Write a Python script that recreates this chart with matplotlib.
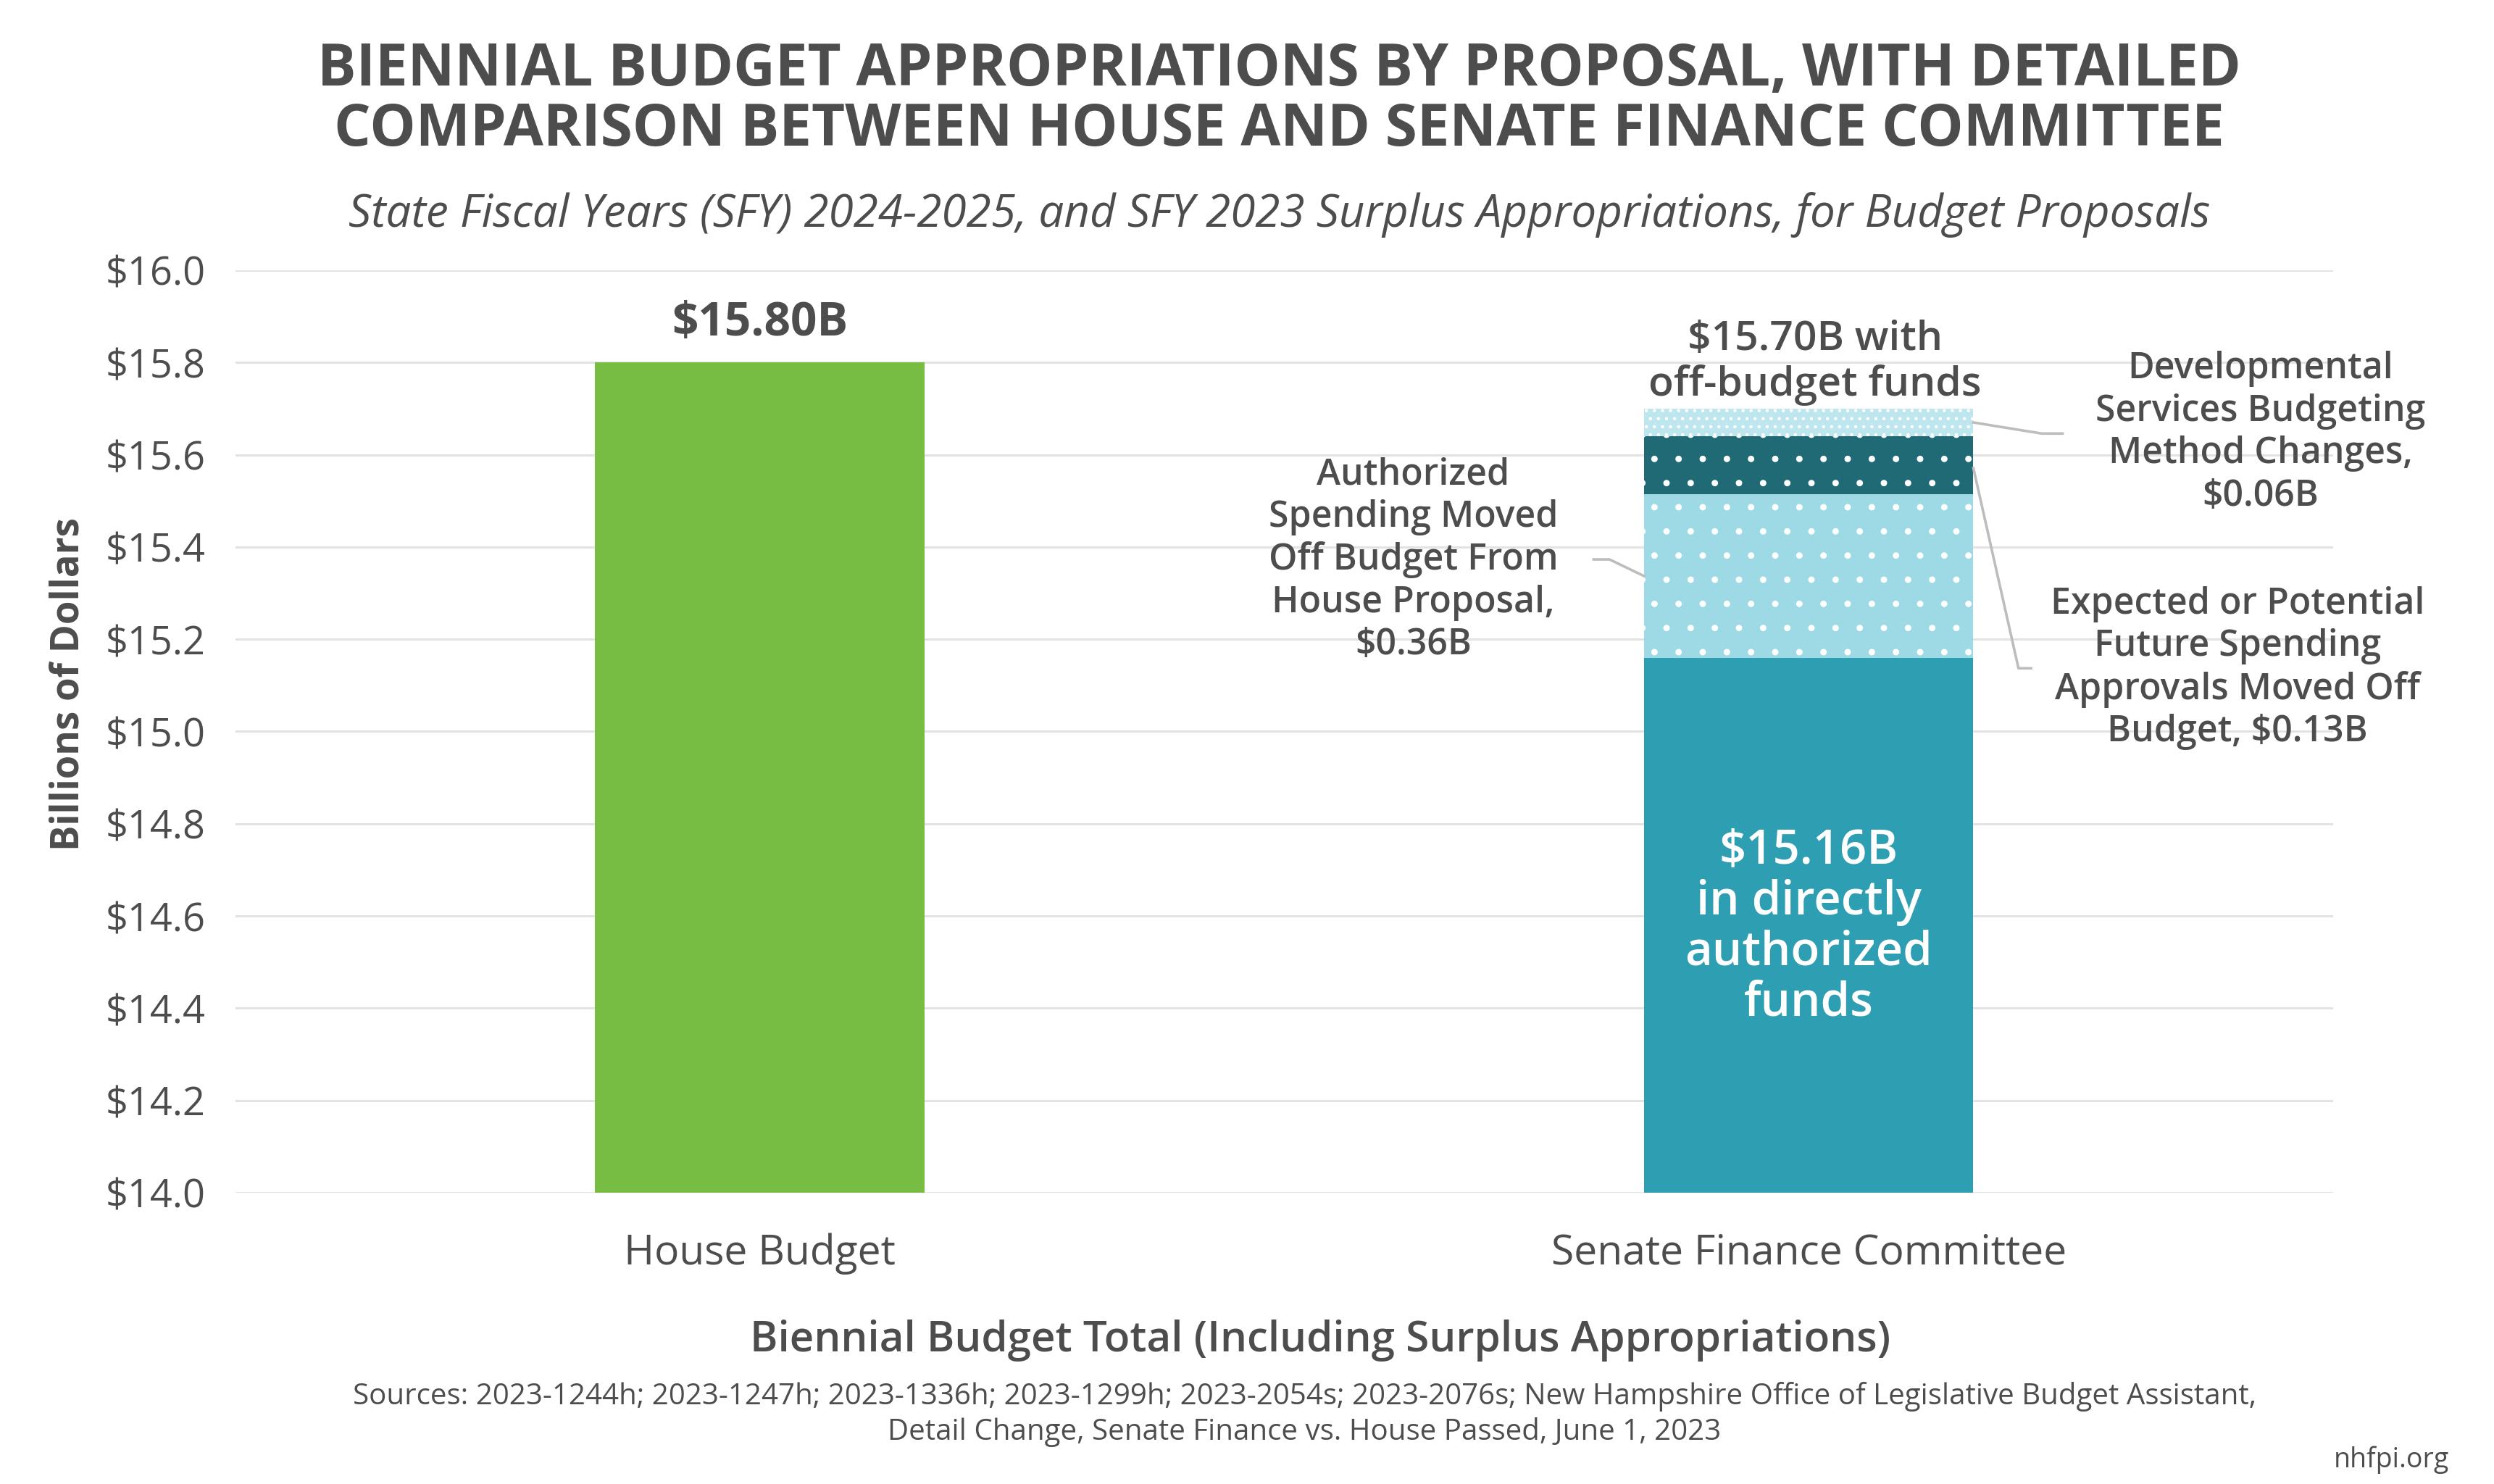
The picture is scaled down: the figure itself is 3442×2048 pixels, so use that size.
import matplotlib
matplotlib.use("Agg")
import matplotlib.pyplot as plt

# ---- data ----
categories = ["House Budget", "Senate Finance Committee"]
house_total = 15.80
senate_base = 15.16
senate_offbudget_authorized = 0.355
senate_future_approvals = 0.125
senate_dev_services = 0.06
yticks = [14.0, 14.2, 14.4, 14.6, 14.8, 15.0, 15.2, 15.4, 15.6, 15.8, 16.0]

TXT = "#4D4D4D"
GREEN = "#77BC43"
TEAL = "#2E9FB2"
LIGHT = "#9DDAE5"
DARK = "#1F6A74"
PALE = "#BDE6EE"
GRID = "#E3E3E3"
LEAD = "#BDBDBD"

plt.rcParams['font.family'] = ['Open Sans', 'DejaVu Sans']
plt.rcParams['hatch.linewidth'] = 0.8

fig = plt.figure(figsize=(17.21, 10.24), dpi=200)
ax = fig.add_axes([0.0944, 0.1963, 0.9355 - 0.0944, 0.8179 - 0.1963])

W = 0.314
x = [0, 1]
ax.bar(x[0], house_total - 14.0, bottom=14.0, width=W, color=GREEN, zorder=3)
ax.bar(x[1], senate_base - 14.0, bottom=14.0, width=W, color=TEAL, zorder=3)
bot = senate_base
ax.bar(x[1], senate_offbudget_authorized, bottom=bot, width=W, color=LIGHT,
       edgecolor="white", linewidth=0, hatch=".", zorder=3)
bot += senate_offbudget_authorized
ax.bar(x[1], senate_future_approvals, bottom=bot, width=W, color=DARK,
       edgecolor="white", linewidth=0, hatch=".", zorder=3)
bot += senate_future_approvals
ax.bar(x[1], senate_dev_services, bottom=bot, width=W, color=PALE,
       edgecolor="white", linewidth=0, hatch="...", zorder=3)
senate_total = bot + senate_dev_services

ax.set_xlim(-0.5, 1.5)
ax.set_ylim(14.0, 16.0)
ax.set_yticks(yticks)
ax.set_yticklabels([f"${v:.1f}" for v in yticks], fontsize=19.5, color=TXT)
ax.set_xticks(x)
ax.set_xticklabels(categories, fontsize=20.5, color=TXT)
ax.tick_params(axis='both', length=0)
ax.tick_params(axis='y', pad=15)
ax.tick_params(axis='x', pad=20)
ax.yaxis.grid(True, color=GRID, linewidth=1.1, zorder=0)
ax.set_axisbelow(True)
for s in ax.spines.values():
    s.set_visible(False)

fig.text(95 / 3442, 1 - 944 / 2048, "Billions of Dollars", rotation=90, ha='center', va='center',
         fontsize=19, fontweight='bold', color=TXT)
fig.text(0.5294, 1 - 1850 / 2048, "Biennial Budget Total (Including Surplus Appropriations)",
         ha='center', va='center', fontsize=21, fontweight='semibold', color=TXT)

# value labels
ax.text(x[0], house_total + 0.085, f"${house_total:.2f}B", ha='center', va='center',
        fontsize=23, fontweight='bold', color=TXT)
ax.text(x[1] + 0.006, senate_total + 0.1, f"${senate_total:.2f}B with\noff-budget funds",
        ha='center', va='center', fontsize=20.5, fontweight='semibold', color=TXT, linespacing=1.15)
ax.text(x[1], 14.575, f"${senate_base:.2f}B\nin directly\nauthorized\nfunds", ha='center', va='center',
        fontsize=23.5, fontweight='semibold', color='white', linespacing=1.1)

# annotations
left_edge = x[1] - W / 2
right_edge = x[1] + W / 2
ax.text(0.623, 15.372, "Authorized\nSpending Moved\nOff Budget From\nHouse Proposal,\n$0.36B",
        ha='center', va='center', fontsize=18, fontweight='semibold', color=TXT, linespacing=1.22)
ax.plot([0.795, 0.81, left_edge], [15.373, 15.373, 15.337], color=LEAD, lw=1.3, zorder=4, clip_on=False)

ax.text(1.431, 15.648, "Developmental\nServices Budgeting\nMethod Changes,\n$0.06B",
        ha='center', va='center', fontsize=18, fontweight='semibold', color=TXT, linespacing=1.22)
ax.plot([right_edge, 1.222, 1.242], [15.67, 15.646, 15.646], color=LEAD, lw=1.3, zorder=4, clip_on=False)

ax.text(1.409, 15.137, "Expected or Potential\nFuture Spending\nApprovals Moved Off\nBudget, $0.13B",
        ha='center', va='center', fontsize=18, fontweight='semibold', color=TXT, linespacing=1.22)
ax.plot([right_edge, 1.20, 1.212], [15.571, 15.137, 15.137], color=LEAD, lw=1.3, zorder=4, clip_on=False)

# titles
fig.text(0.513, 1 - 97 / 2048, "BIENNIAL BUDGET APPROPRIATIONS BY PROPOSAL, WITH DETAILED",
         ha='center', va='center', fontsize=28.7, fontweight='bold', color=TXT)
fig.text(0.513, 1 - 180 / 2048, "COMPARISON BETWEEN HOUSE AND SENATE FINANCE COMMITTEE",
         ha='center', va='center', fontsize=28.7, fontweight='bold', color=TXT)
fig.text(0.513, 1 - 296 / 2048,
         "State Fiscal Years (SFY) 2024-2025, and SFY 2023 Surplus Appropriations, for Budget Proposals",
         ha='center', va='center', fontsize=22.3, style='italic', color=TXT)

fig.text(0.523, 1 - 1952 / 2048,
         "Sources: 2023-1244h; 2023-1247h; 2023-1336h; 2023-1299h; 2023-2054s; 2023-2076s; New Hampshire Office of Legislative Budget Assistant,\nDetail Change, Senate Finance vs. House Passed, June 1, 2023",
         ha='center', va='center', fontsize=14.5, color=TXT, linespacing=1.25)
fig.text(0.982, 1 - 2015 / 2048, "nhfpi.org", ha='right', va='center', fontsize=13.5, color=TXT)

fig.savefig("out.png", dpi=200, facecolor='white')
